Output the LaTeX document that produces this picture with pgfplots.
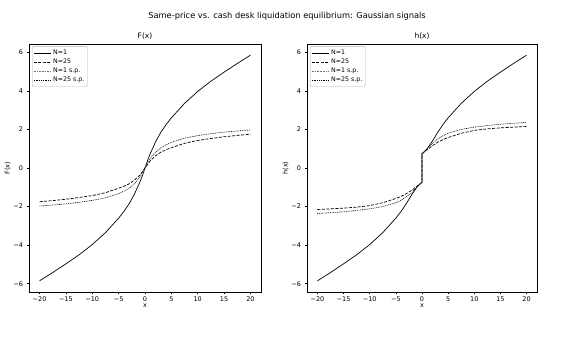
\documentclass[border=0pt]{standalone}
\usepackage{pgfplots}
\pgfplotsset{compat=1.18}
\usepackage{fontspec}
\setmainfont{DejaVu Sans}
\definecolor{lgray}{gray}{0.45}
\pgfplotsset{
  mystyle/.style={
    scale only axis,
    xmin=-22, xmax=22, ymin=-6.43, ymax=6.43,
    xtick={-20,-15,-10,-5,0,5,10,15,20},
    xticklabels={−20,−15,−10,−5,0,5,10,15,20},
    ytick={-6,-4,-2,0,2,4,6},
    yticklabels={−6,−4,−2,0,2,4,6},
    tick align=outside,
    major tick length=2.5pt,
    tick style={black, line width=0.5pt},
    xtick pos=bottom, ytick pos=left,
    ticklabel style={font=\fontsize{6.5}{7}\selectfont},
    xticklabel style={yshift=1pt},
    label style={font=\fontsize{6.5}{7}\selectfont},
    title style={font=\fontsize{7.5}{8}\selectfont, yshift=-5pt},
    axis line style={line width=0.6pt},
    xlabel={x},
    xlabel style={yshift=5pt},
    ylabel style={yshift=-4pt},
    legend style={font=\fontsize{6.3}{7}\selectfont, draw=gray!60, rounded corners=1pt,
      inner sep=1.2pt, row sep=-1pt, at={(0.013,0.99)}, anchor=north west},
    legend cell align=left,
  },
  s1/.style={black, line width=0.7pt},
  s25/.style={black, line width=0.7pt, dash pattern=on 3pt off 1.5pt},
  sp1/.style={lgray, line width=0.6pt, dash pattern=on 0.6pt off 1pt},
  sp25/.style={black, line width=0.6pt, dash pattern=on 0.6pt off 1.2pt},
}
\begin{document}
\begin{tikzpicture}[x=1bp,y=1bp]
\useasboundingbox (0,0) rectangle (574,340);
\node[font=\fontsize{8.3}{9}\selectfont] at (287,324) {Same-price vs. cash desk liquidation equilibrium: Gaussian signals};
\begin{axis}[mystyle, at={(29bp,48bp)}, anchor=south west, width=232bp, height=248bp,
  title={F(x)}, ylabel={F(x)}]
\addplot[s1] coordinates {(-20,-5.85) (-17.5,-5.42) (-15,-4.97) (-12.5,-4.5) (-10,-3.97) (-7.5,-3.35) (-5,-2.6) (-4,-2.25) (-3,-1.85) (-2,-1.35) (-1,-0.75) (-0.5,-0.4) (0,0) (0.5,0.4) (1,0.75) (2,1.35) (3,1.85) (4,2.25) (5,2.6) (7.5,3.35) (10,3.97) (12.5,4.5) (15,4.97) (17.5,5.42) (20,5.85)};
\addlegendentry{N=1}
\addplot[s25] coordinates {(-20,-1.75) (-17.5,-1.69) (-15,-1.62) (-12.5,-1.53) (-10,-1.43) (-7.5,-1.28) (-5,-1.05) (-4,-0.95) (-3,-0.82) (-2,-0.63) (-1,-0.37) (-0.5,-0.19) (0,0) (0.5,0.19) (1,0.37) (2,0.63) (3,0.82) (4,0.95) (5,1.05) (7.5,1.28) (10,1.43) (12.5,1.53) (15,1.62) (17.5,1.69) (20,1.75)};
\addlegendentry{N=25}
\addplot[sp1] coordinates {(-20,-1.97) (-17.5,-1.92) (-15,-1.86) (-12.5,-1.78) (-10,-1.68) (-7.5,-1.55) (-5,-1.33) (-4,-1.2) (-3,-1.05) (-2,-0.82) (-1,-0.48) (-0.5,-0.25) (0,0) (0.5,0.25) (1,0.48) (2,0.82) (3,1.05) (4,1.2) (5,1.33) (7.5,1.55) (10,1.68) (12.5,1.78) (15,1.86) (17.5,1.92) (20,1.97)};
\addlegendentry{N=1 s.p.}
\addplot[sp25] coordinates {(-20,-1.97) (-17.5,-1.92) (-15,-1.86) (-12.5,-1.78) (-10,-1.68) (-7.5,-1.55) (-5,-1.33) (-4,-1.2) (-3,-1.05) (-2,-0.82) (-1,-0.48) (-0.5,-0.25) (0,0) (0.5,0.25) (1,0.48) (2,0.82) (3,1.05) (4,1.2) (5,1.33) (7.5,1.55) (10,1.68) (12.5,1.78) (15,1.86) (17.5,1.92) (20,1.97)};
\addlegendentry{N=25 s.p.}
\end{axis}
\begin{axis}[mystyle, at={(307bp,48bp)}, anchor=south west, width=230bp, height=248bp,
  title={h(x)}, ylabel={h(x)}]
\addplot[s1] coordinates {(-20,-5.85) (-17.5,-5.42) (-15,-4.97) (-12.5,-4.5) (-10,-3.97) (-7.5,-3.35) (-5,-2.6) (-4,-2.25) (-3,-1.85) (-2,-1.4) (-1,-1.0) (-0.25,-0.78) (0,-0.75) (0,0.75) (0.25,0.78) (1,1.0) (2,1.4) (3,1.85) (4,2.25) (5,2.6) (7.5,3.35) (10,3.97) (12.5,4.5) (15,4.97) (17.5,5.42) (20,5.85)};
\addlegendentry{N=1}
\addplot[s25] coordinates {(-20,-2.15) (-17.5,-2.12) (-15,-2.08) (-12.5,-2.03) (-10,-1.95) (-7.5,-1.8) (-5,-1.58) (-4,-1.47) (-3,-1.33) (-2,-1.16) (-1,-0.95) (-0.25,-0.8) (0,-0.75) (0,0.75) (0.25,0.8) (1,0.95) (2,1.16) (3,1.33) (4,1.47) (5,1.58) (7.5,1.8) (10,1.95) (12.5,2.03) (15,2.08) (17.5,2.12) (20,2.15)};
\addlegendentry{N=25}
\addplot[sp1] coordinates {(-20,-2.36) (-17.5,-2.32) (-15,-2.27) (-12.5,-2.2) (-10,-2.12) (-7.5,-2.0) (-5,-1.8) (-4,-1.67) (-3,-1.5) (-2,-1.28) (-1,-1.0) (-0.25,-0.8) (0,-0.75) (0,0.75) (0.25,0.8) (1,1.0) (2,1.28) (3,1.5) (4,1.67) (5,1.8) (7.5,2.0) (10,2.12) (12.5,2.2) (15,2.27) (17.5,2.32) (20,2.36)};
\addlegendentry{N=1 s.p.}
\addplot[sp25] coordinates {(-20,-2.36) (-17.5,-2.32) (-15,-2.27) (-12.5,-2.2) (-10,-2.12) (-7.5,-2.0) (-5,-1.8) (-4,-1.67) (-3,-1.5) (-2,-1.28) (-1,-1.0) (-0.25,-0.8) (0,-0.75) (0,0.75) (0.25,0.8) (1,1.0) (2,1.28) (3,1.5) (4,1.67) (5,1.8) (7.5,2.0) (10,2.12) (12.5,2.2) (15,2.27) (17.5,2.32) (20,2.36)};
\addlegendentry{N=25 s.p.}
\end{axis}
\end{tikzpicture}
\end{document}
